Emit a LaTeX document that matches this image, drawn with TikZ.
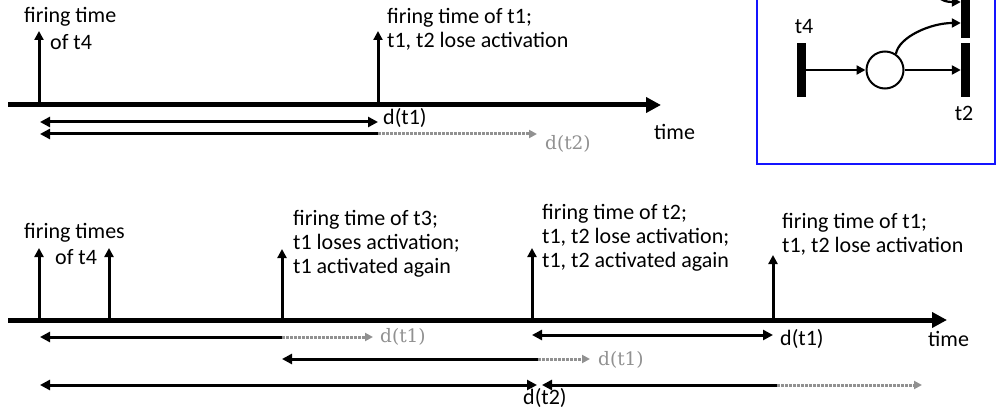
\documentclass[tikz,border=0pt]{standalone}
\usepackage{fontspec}
\setmainfont{Carlito}
\newfontfamily\greyfont{DejaVu Serif}
\usetikzlibrary{arrows.meta}
\definecolor{dgrey}{RGB}{145,145,145}
\definecolor{boxblue}{RGB}{20,20,255}
\tikzset{
 lbl/.style={font=\fontsize{22}{24}\selectfont, inner sep=0pt, anchor=base west, align=left},
 glbl/.style={font=\greyfont\fontsize{18.5}{23}\selectfont, text=dgrey, inner sep=0pt, anchor=base west},
 axisline/.style={line width=5pt, -{Triangle[length=15pt,width=15pt]}},
 tick/.style={line width=3pt, -{Triangle[length=9pt,width=9pt]}},
 dur/.style={line width=3pt, {Triangle[length=10pt,width=10pt]}-{Triangle[length=10pt,width=10pt]}},
 durl/.style={line width=3pt, {Triangle[length=10pt,width=10pt]}-},
 pend/.style={line width=3pt, dgrey, dash pattern=on 3pt off 1pt, -{Triangle[length=8pt,width=8pt]}},
 bar/.style={fill=black, minimum width=9pt, minimum height=54pt, inner sep=0pt},
 place/.style={circle, draw, line width=2pt, minimum size=37pt, inner sep=0pt},
 arc/.style={line width=2.2pt, -{Triangle[length=9pt,width=9pt]}},
}
\begin{document}
\begin{tikzpicture}[x=1pt,y=-1pt]
\clip (0,0) rectangle (998,414);
\fill[white] (0,0) rectangle (998,414);

% ---------- Petri net box ----------
\draw[boxblue, line width=2.5pt] (757,-10) rectangle (995,164);
\node[bar] (t4) at (801.5,70) {};
\node[place] (p) at (885,70) {};
\node[bar] (t2) at (965.5,70) {};
\node[bar] (t1) at (965.5,11) {};
\node[lbl, anchor=center] (t4l) at (804,27) {t4};
\node[lbl, anchor=center] (t2l) at (964,113) {t2};
\coordinate (up) at (925,-25);
\draw[arc] (t4) -- (p);
\draw[arc] (p) -- (t2);
\draw[arc] (p.56) .. controls +(3,-17) and +(-30,0) .. ([yshift=-12pt]t1.west);
\draw[arc] (up) .. controls +(10,22) and +(-20,0) .. ([yshift=9pt]t1.west);

% ---------- top timeline ----------
\coordinate (a0) at (8,105); \coordinate (a1) at (661,105);
\draw[axisline] (a0) -- (a1);
\coordinate (e1) at (39,105); \coordinate (e1t) at (39,31);
\coordinate (e2) at (378,105); \coordinate (e2t) at (378,31);
\draw[tick] (e1) -- (e1t);
\draw[tick] (e2) -- (e2t);
\node[lbl] (l1) at (24,23) {firing time};
\node[lbl] (l2) at (50,50) {of t4};
\node[lbl] (l3) at (387,48) {firing time of t1;\\t1, t2 lose activation};
\coordinate (d1a) at (40,122); \coordinate (d1b) at (378,122);
\draw[dur] (d1a) -- (d1b);
\coordinate (d2a) at (40,134); \coordinate (d2b) at (378,134); \coordinate (d2c) at (537,134);
\draw[durl] (d2a) -- (d2b);
\draw[pend] (d2b) -- (d2c);
\node[lbl] (l4) at (383,125) {d(t1)};
\node[glbl] (l5) at (545,150) {d(t2)};
\node[lbl] (l6) at (654,140) {time};

% ---------- bottom timeline ----------
\coordinate (b0) at (8,320); \coordinate (b1) at (947,320);
\draw[axisline] (b0) -- (b1);
\coordinate (f1) at (39,320);  \coordinate (f1t) at (39,248);
\coordinate (f2) at (109,320); \coordinate (f2t) at (109,248);
\coordinate (f3) at (282,320); \coordinate (f3t) at (282,249);
\coordinate (f4) at (532,320); \coordinate (f4t) at (532,248);
\coordinate (f5) at (773,320); \coordinate (f5t) at (773,255);
\draw[tick] (f1) -- (f1t);
\draw[tick] (f2) -- (f2t);
\draw[tick] (f3) -- (f3t);
\draw[tick] (f4) -- (f4t);
\draw[tick] (f5) -- (f5t);
\node[lbl] (m1) at (24,238) {firing times};
\node[lbl] (m2) at (55,264) {of t4};
\node[lbl] (m3) at (293,273) {firing time of t3;\\t1 loses activation;\\t1 activated again};
\node[lbl] (m4) at (542,267) {firing time of t2;\\t1, t2 lose activation;\\t1, t2 activated again};
\node[lbl] (m5) at (782,252) {firing time of t1;\\t1, t2 lose activation};

% rows
\coordinate (r1a) at (40,337); \coordinate (r1b) at (282,337); \coordinate (r1c) at (373,337);
\draw[durl] (r1a) -- (r1b);
\draw[pend] (r1b) -- (r1c);
\node[glbl] (n1) at (380,342) {d(t1)};

\coordinate (qa) at (532,335); \coordinate (qb) at (773,335);
\draw[dur] (qa) -- (qb);
\node[lbl] (n2) at (780,345) {d(t1)};
\node[lbl] (n3) at (928,346) {time};

\coordinate (r2a) at (282,359); \coordinate (r2b) at (538,359); \coordinate (r2c) at (590,359);
\draw[durl] (r2a) -- (r2b);
\draw[pend] (r2b) -- (r2c);
\node[glbl] (n4) at (598,365) {d(t1)};

\coordinate (r3a) at (40,385); \coordinate (r3b) at (537,385);
\draw[dur] (r3a) -- (r3b);
\coordinate (r3c) at (542,385); \coordinate (r3d) at (777,385); \coordinate (r3e) at (922,385);
\draw[durl] (r3c) -- (r3d);
\draw[pend] (r3d) -- (r3e);
\node[lbl] (n5) at (523,404) {d(t2)};
\end{tikzpicture}
\end{document}
